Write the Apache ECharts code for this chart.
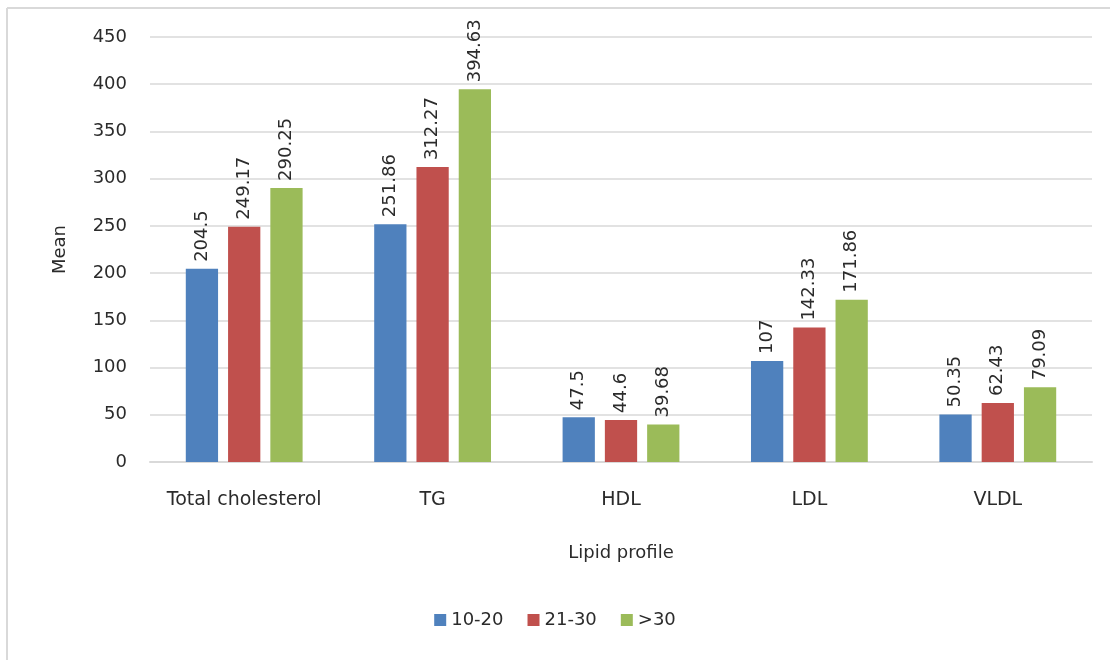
<!DOCTYPE html>
<html>
<head>
<meta charset="utf-8">
<script src="https://cdn.jsdelivr.net/npm/echarts@6/dist/echarts.min.js"></script>
<style>html,body{margin:0;padding:0;background:#fff}#c{width:1110px;height:660px}</style>
</head>
<body>
<div id="c"></div>
<script>
const categories = ['Total cholesterol', 'TG', 'HDL', 'LDL', 'VLDL'];
const seriesNames = ['10-20', '21-30', '>30'];
const s1020 = [204.5, 251.86, 47.5, 107, 50.35];
const s2130 = [249.17, 312.27, 44.6, 142.33, 62.43];
const s30 = [290.25, 394.63, 39.68, 171.86, 79.09];
const colors = ['#4F81BD', '#C0504D', '#9BBB59'];
const font = 'DejaVu Sans';
const txt = '#2b2b2b';

const chart = echarts.init(document.getElementById('c'));
const mk = (name, data, color) => ({
  name, type: 'bar', data,
  barGap: '31%', barCategoryGap: '38%',
  itemStyle: { color },
  label: {
    show: true, position: 'top', rotate: 90, align: 'left', verticalAlign: 'middle',
    distance: 7, color: txt, fontFamily: font, fontSize: 18,
    formatter: p => String(p.value)
  }
});
chart.setOption({
  animation: false,
  textStyle: { fontFamily: font },
  color: colors,
  graphic: [
    { type: 'line', shape: { x1: 7, y1: 8, x2: 1110, y2: 8 }, style: { stroke: '#d9d9d9', lineWidth: 2 } },
    { type: 'line', shape: { x1: 7, y1: 8, x2: 7, y2: 660 }, style: { stroke: '#d9d9d9', lineWidth: 2 } }
  ],
  grid: { left: 150, right: 18, top: 37, bottom: 198, containLabel: false },
  legend: {
    bottom: 26, left: 'center', itemWidth: 12, itemHeight: 12, itemGap: 24,
    icon: 'rect', textStyle: { fontSize: 18, color: txt, fontFamily: font },
    data: seriesNames
  },
  xAxis: {
    type: 'category', data: categories,
    name: 'Lipid profile', nameLocation: 'middle', nameGap: 82,
    nameTextStyle: { fontSize: 18, color: txt, fontFamily: font },
    axisLine: { lineStyle: { color: '#d9d9d9', width: 2 } },
    axisTick: { show: false },
    axisLabel: { interval: 0, fontSize: 19, color: txt, margin: 29, fontFamily: font }
  },
  yAxis: {
    type: 'value', min: 0, max: 450, interval: 50,
    name: 'Mean', nameLocation: 'middle', nameGap: 81, nameRotate: 90,
    nameTextStyle: { fontSize: 18, color: txt, fontFamily: font },
    axisLine: { show: false }, axisTick: { show: false },
    axisLabel: { fontSize: 18, color: txt, margin: 23, fontFamily: font },
    splitLine: { lineStyle: { color: '#d9d9d9', width: 1.5 } }
  },
  series: [mk(seriesNames[0], s1020, colors[0]), mk(seriesNames[1], s2130, colors[1]), mk(seriesNames[2], s30, colors[2])]
});
</script>
</body>
</html>
